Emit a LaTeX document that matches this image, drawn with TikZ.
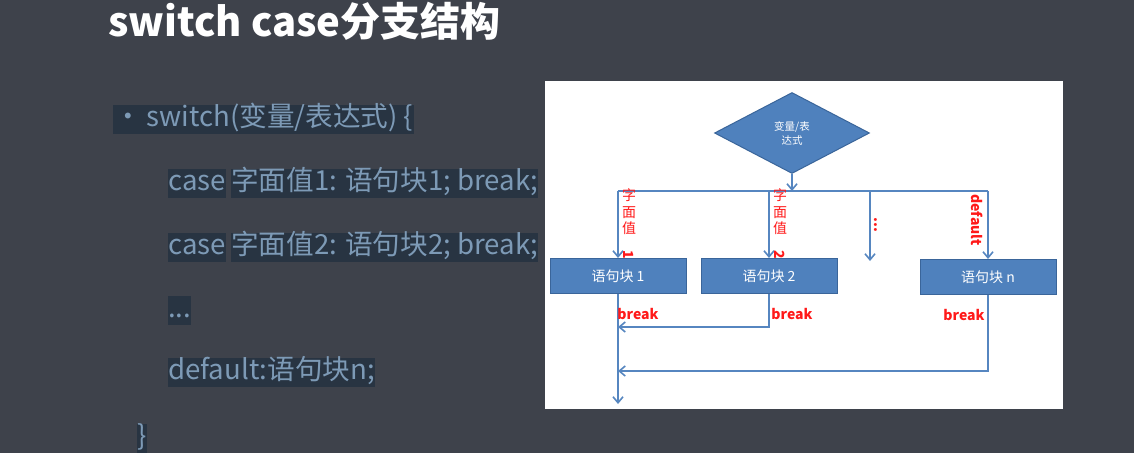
\documentclass[tikz,border=0pt]{standalone}
\usepackage{fontspec}
\setmainfont{Noto Sans CJK SC}
\usetikzlibrary{shapes.geometric,arrows.meta}
\definecolor{bg}{HTML}{3E424B}
\definecolor{hl}{HTML}{283442}
\definecolor{txt}{HTML}{7D9AB6}
\definecolor{boxfill}{HTML}{4F81BD}
\definecolor{boxline}{HTML}{3A659A}
\definecolor{flow}{HTML}{5686C0}
\definecolor{lbl}{HTML}{FF1A1A}
\begin{document}
\begin{tikzpicture}[x=1pt,y=-1pt,
  listtxt/.style={anchor=west,font=\fontsize{27.6}{30}\selectfont,text=txt,fill=hl,inner xsep=0pt,inner ysep=0pt,text height=22pt,text depth=7pt},
  block/.style={draw=boxline,fill=boxfill,line width=1pt,minimum width=136pt,minimum height=35pt,inner sep=0pt,text=white,font=\fontsize{14}{15}\selectfont},
  ln/.style={draw=flow,line width=2pt},
  arr/.style={ln,-{Straight Barb[length=6pt,width=10pt,line width=1.6pt]}},
  redlbl/.style={text=lbl,font=\fontsize{14}{16.5}\selectfont,align=center,inner sep=0pt},
  redbold/.style={text=lbl,font=\fontsize{14}{16}\selectfont\bfseries,inner sep=0pt}]
\fill[bg] (0,0) rectangle (1134,453);
\useasboundingbox (0,0) rectangle (1134,453);
% title
\node[anchor=west,text=white,font=\fontsize{40}{44}\selectfont\bfseries,inner sep=0pt] (title) at (108,21) {switch case分支结构};
% code listing
\node[listtxt,inner xsep=1pt] (l0) at (113,119) {•\hspace{5pt}switch(变量/表达式) \{};
\node[listtxt] (c1k) at (168,183) {case};
\node[listtxt] (c1) at (231,183) {字面值1: 语句块1; break;};
\node[listtxt] (c2k) at (168,247) {case};
\node[listtxt] (c2) at (231,247) {字面值2: 语句块2; break;};
\node[listtxt] (dots) at (168,310) {...};
\node[listtxt] (dflt) at (168,372) {default:语句块n;};
\node[listtxt] (close) at (137,438) {\}};
% diagram panel
\fill[white] (545,81) rectangle (1063,409);
\node[shape=diamond,draw=boxline,fill=boxfill,line width=1pt,minimum width=155pt,minimum height=81pt,aspect=1.9,inner sep=0pt,text=white,align=center,font=\fontsize{10.5}{14}\selectfont] (dec) at (792,133) {变量/表\\达式};
\node[block] (b1) at (618,276) {语句块 1};
\node[block] (b2) at (769,276) {语句块 2};
\node[block] (bn) at (988,277) {语句块 n};
\coordinate (j) at (792,191);
\coordinate (jl) at (618,191);
\coordinate (j2) at (769,191);
\coordinate (j3) at (870,191);
\coordinate (jr) at (988,191);
\coordinate (e3) at (870,261);
\coordinate (out) at (618,404);
\coordinate (m1) at (618,327);
\coordinate (m2) at (618,371);
\draw[arr] (dec.south) -- (j);
\draw[ln] (jl) -- (jr);
\draw[arr] (jl) -- (b1.north);
\draw[arr] (j2) -- (b2.north);
\draw[arr] (j3) -- (e3);
\draw[arr] (jr) -- (bn.north);
\draw[arr] (b1.south) -- (out);
\draw[arr] (b2.south) |- (m1);
\draw[arr] (bn.south) |- (m2);
% labels
\node[redlbl] (v1) at (629,224) {字\\面\\值\\\rotatebox{-90}{\bfseries 1}};
\node[redlbl] (v2) at (780,224) {字\\面\\值\\\rotatebox{-90}{\bfseries 2}};
\node[redbold,rotate=-90] (v3) at (876,225) {...};
\node[redbold,rotate=-90] (vd) at (977,220) {default};
\node[redbold] (k1) at (638,314) {break};
\node[redbold] (k2) at (792,314) {break};
\node[redbold] (kn) at (964,315) {break};
\end{tikzpicture}
\end{document}
